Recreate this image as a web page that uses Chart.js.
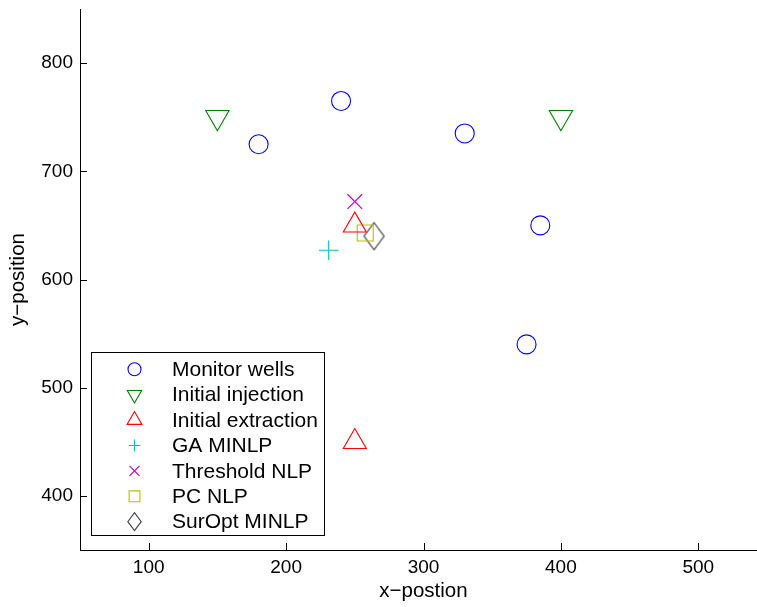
<!DOCTYPE html>
<html><head><meta charset="utf-8">
<style>
html,body{margin:0;padding:0;overflow:hidden;background:#fff;width:757px;height:607px}
canvas{display:block}
</style>
<script src="https://cdn.jsdelivr.net/npm/chart.js@4/dist/chart.umd.min.js"></script>
</head><body>
<canvas id="c" width="767" height="607" style="width:767px;height:607px"></canvas>
<script>
// ---- data ----
const seriesNames = ['Monitor wells','Initial injection','Initial extraction','GA MINLP','Threshold NLP','PC NLP','SurOpt MINLP'];
const monitorX = [180, 240, 330, 385, 375];
const monitorY = [725, 765, 735, 650, 540];
const injectionX = [150, 400];
const injectionY = [750, 750];
const extractionX = [250, 250];
const extractionY = [650, 450];
const gaX = [231];
const gaY = [627];
const thresholdX = [250];
const thresholdY = [672];
const pcX = [257.6];
const pcY = [643];
const suroptX = [264];
const suroptY = [640];
const xTicks = [100, 200, 300, 400, 500];
const yTicks = [400, 500, 600, 700, 800];
const xRange = [50, 550];
const yRange = [350, 850];

// ---- styles ----
const colors = ['#0000ff', '#008000', '#ff0000', '#00bfbf', '#bf00bf', '#bfbf00', '#404040'];
const FONT = '"Liberation Sans", Arial, Helvetica, sans-serif';

function pts(xs, ys) { return xs.map((x, i) => ({x: x, y: ys[i]})); }

function diamondCanvas(w, h, color) {
  const c = document.createElement('canvas');
  c.width = w + 3; c.height = h + 3;
  const g = c.getContext('2d');
  const cx = c.width / 2, cy = c.height / 2;
  g.strokeStyle = color; g.lineWidth = 1.2;
  g.beginPath();
  g.moveTo(cx, cy - h / 2); g.lineTo(cx + w / 2, cy); g.lineTo(cx, cy + h / 2); g.lineTo(cx - w / 2, cy);
  g.closePath(); g.stroke();
  return c;
}
const bigDiamond = diamondCanvas(20, 27, colors[6]);

const markerStyles = [
  {pointStyle: 'circle', radius: 9.5, rotation: 0},
  {pointStyle: 'triangle', radius: 13.5, rotation: 180},
  {pointStyle: 'triangle', radius: 13.3, rotation: 0},
  {pointStyle: 'cross', radius: 9.8, rotation: 0},
  {pointStyle: 'crossRot', radius: 10.4, rotation: 0},
  {pointStyle: 'rect', radius: 11.3, rotation: 0},
  {pointStyle: bigDiamond, radius: 10, rotation: 0}
];
const seriesData = [
  pts(monitorX, monitorY), pts(injectionX, injectionY), pts(extractionX, extractionY),
  pts(gaX, gaY), pts(thresholdX, thresholdY), pts(pcX, pcY), pts(suroptX, suroptY)
];

const datasets = seriesNames.map((n, i) => ({
  label: n,
  data: seriesData[i],
  pointStyle: markerStyles[i].pointStyle,
  pointRadius: markerStyles[i].radius,
  pointRotation: markerStyles[i].rotation,
  pointBorderColor: colors[i],
  pointBackgroundColor: 'rgba(0,0,0,0)',
  pointBorderWidth: 1.1,
  showLine: false,
  clip: false
}));

// inward tick marks
const inwardTicks = {
  id: 'inwardTicks',
  afterDatasetsDraw(chart) {
    const ctx = chart.ctx;
    const xs = chart.scales.x, ys = chart.scales.y;
    const a = chart.chartArea;
    ctx.save();
    ctx.strokeStyle = '#000'; ctx.lineWidth = 1;
    ctx.beginPath();
    xs.ticks.forEach(t => {
      const p = Math.round(xs.getPixelForValue(t.value)) + 0.5;
      ctx.moveTo(p, a.bottom); ctx.lineTo(p, a.bottom - 7);
    });
    ys.ticks.forEach(t => {
      const p = Math.round(ys.getPixelForValue(t.value)) + 0.5;
      ctx.moveTo(a.left, p); ctx.lineTo(a.left + 7, p);
    });
    ctx.stroke();
    ctx.restore();
  }
};

function drawLegendMarker(ctx, i, x, y) {
  ctx.save();
  ctx.strokeStyle = colors[i]; ctx.lineWidth = 1.1;
  ctx.beginPath();
  if (i === 0) { ctx.arc(x, y, 6.5, 0, Math.PI * 2); }
  else if (i === 1) { const r = 8.3; ctx.moveTo(x, y + r); ctx.lineTo(x + r * 0.866, y - r / 2); ctx.lineTo(x - r * 0.866, y - r / 2); ctx.closePath(); }
  else if (i === 2) { const r = 8.6; ctx.moveTo(x, y - r); ctx.lineTo(x + r * 0.866, y + r / 2); ctx.lineTo(x - r * 0.866, y + r / 2); ctx.closePath(); }
  else if (i === 3) { const r = 5.9; ctx.moveTo(x - r, y); ctx.lineTo(x + r, y); ctx.moveTo(x, y - r); ctx.lineTo(x, y + r); }
  else if (i === 4) { const r = 5; ctx.moveTo(x - r, y - r); ctx.lineTo(x + r, y + r); ctx.moveTo(x + r, y - r); ctx.lineTo(x - r, y + r); }
  else if (i === 5) { const s = 5.4; ctx.rect(x - s, y - s, 2 * s, 2 * s); }
  else { const w = 6.7, h = 9; ctx.moveTo(x, y - h); ctx.lineTo(x + w, y); ctx.lineTo(x, y + h); ctx.lineTo(x - w, y); ctx.closePath(); }
  ctx.stroke();
  ctx.restore();
}

const boxLegend = {
  id: 'boxLegend',
  afterDraw(chart) {
    const ctx = chart.ctx;
    ctx.save();
    const L = 91.5, T = 352.5, W = 233, H = 183;
    ctx.fillStyle = '#fff';
    ctx.fillRect(L, T, W, H);
    ctx.strokeStyle = '#000'; ctx.lineWidth = 1;
    ctx.strokeRect(L, T, W, H);
    ctx.font = '21px ' + FONT;
    ctx.fillStyle = '#000';
    ctx.textBaseline = 'middle';
    ctx.textAlign = 'left';
    seriesNames.forEach((n, i) => {
      const y = 369.3 + i * 25.4;
      drawLegendMarker(ctx, i, 134.5, y);
      ctx.fillText(n, 172, y + 1);
    });
    ctx.restore();
  }
};

new Chart(document.getElementById('c'), {
  type: 'scatter',
  data: {datasets: datasets},
  options: {
    responsive: false,
    animation: false,
    devicePixelRatio: 1,
    events: [],
    layout: {autoPadding: false, padding: {top: 9, right: 0, left: 0, bottom: 0}},
    plugins: {legend: {display: false}, tooltip: {enabled: false}},
    scales: {
      x: {
        type: 'linear', min: xRange[0], max: xRange[1],
        afterBuildTicks: s => { s.ticks = xTicks.map(v => ({value: v})); },
        afterFit: s => { s.height = 57; s.paddingLeft = 0; s.paddingRight = 0; s.paddingTop = 0; s.paddingBottom = 0; },
        grid: {display: false, drawTicks: false},
        border: {display: true, color: '#000', width: 1},
        ticks: {color: '#000', font: {family: FONT, size: 19}, padding: 6, maxRotation: 0},
        title: {display: true, text: 'x\u2212postion', color: '#000', font: {family: FONT, size: 20.5}, padding: {top: 0, bottom: 3}}
      },
      y: {
        type: 'linear', min: yRange[0], max: yRange[1],
        afterBuildTicks: s => { s.ticks = yTicks.map(v => ({value: v})); },
        afterFit: s => { s.width = 80; s.paddingLeft = 0; s.paddingRight = 0; s.paddingTop = 0; s.paddingBottom = 0; },
        grid: {display: false, drawTicks: false},
        border: {display: true, color: '#000', width: 1},
        ticks: {color: '#000', font: {family: FONT, size: 19}, padding: 7},
        title: {display: true, text: 'y\u2212position', color: '#000', font: {family: FONT, size: 20.5}, padding: {top: 6, bottom: 0}}
      }
    }
  },
  plugins: [inwardTicks, boxLegend]
});
</script>
</body></html>
